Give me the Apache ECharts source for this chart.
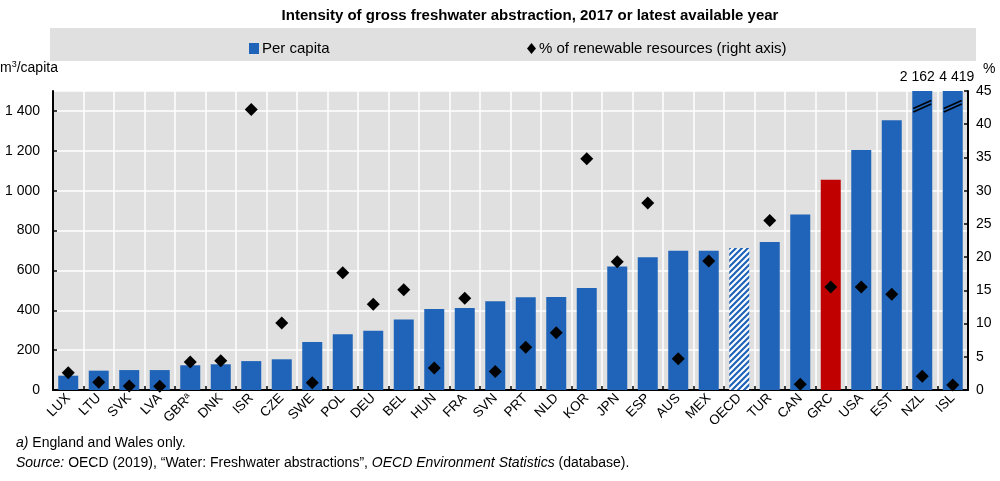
<!DOCTYPE html>
<html>
<head>
<meta charset="utf-8">
<script src="https://cdn.jsdelivr.net/npm/echarts@6/dist/echarts.min.js"></script>
<style>
html,body{margin:0;padding:0;background:#fff;}
#c{width:1000px;height:481px;}
</style>
</head>
<body>
<div id="c"></div>
<script>
const categories = ['LUX','LTU','SVK','LVA','GBR','DNK','ISR','CZE','SWE','POL','DEU','BEL','HUN','FRA','SVN','PRT','NLD','KOR','JPN','ESP','AUS','MEX','OECD','TUR','CAN','GRC','USA','EST','NZL','ISL'];
const perCapita = [72,97,100,100,124,129,145,154,241,280,297,354,406,411,445,465,466,512,619,666,699,699,712,743,880,1055,1204,1353,2162,4419];
const pctRenewable = [2.6,1.15,0.6,0.55,4.2,4.4,42.2,10.1,1.1,17.65,12.9,15.1,3.3,13.8,2.8,6.45,8.6,34.8,19.3,28.15,4.7,19.4,null,25.5,0.85,15.5,15.5,14.4,2.06,0.75];
const leftTicks = {min:0, max:1500, interval:200};
const rightTicks = {min:0, max:45, interval:5};
const footnoteLabels = ['GBR'];

const BLUE = '#1f64b8';
const RED = '#c00000';
const NARROW = "'Liberation Sans Narrow','Arial Narrow','Liberation Sans',Arial,sans-serif";
const SANS = "'Liberation Sans',Arial,sans-serif";

function fmt(v){ return String(v).replace(/\B(?=(\d{3})+(?!\d))/g,' '); }

// hatch pattern for OECD
const pc = document.createElement('canvas');
pc.width = 6; pc.height = 6;
const g = pc.getContext('2d');
g.fillStyle = '#ffffff'; g.fillRect(0,0,6,6);
g.strokeStyle = BLUE; g.lineWidth = 2.2;
g.beginPath();
for (let k=-2;k<=2;k++){ g.moveTo(k*6-1, 7); g.lineTo(k*6+7, -1); }
g.stroke();

const cap = leftTicks.max;
let clippedCount = 0;
const barData = perCapita.map((v,i)=>{
  const d = {value: Math.min(v,cap)};
  if (categories[i]==='OECD') d.itemStyle = {color:{image:pc, repeat:'repeat'}};
  if (categories[i]==='GRC') d.itemStyle = {color:RED};
  if (v>cap) {
    const off = clippedCount===0 ? -5 : 4;
    clippedCount++;
    d.label = {show:true, position:'top', distance:7, offset:[off,0], formatter: fmt(v), color:'#000', fontSize:14, fontFamily:NARROW};
  }
  return d;
});
const breakData = [];
perCapita.forEach((v,i)=>{ if (v>cap) breakData.push([i, cap*0.955]); });

const chart = echarts.init(document.getElementById('c'), null, {renderer:'canvas'});
chart.setOption({
  animation:false,
  backgroundColor:'#fff',
  title:{text:'Intensity of gross freshwater abstraction, 2017 or latest available year', left:525, textAlign:'center', top:3,
    textStyle:{fontFamily:NARROW, fontSize:15, fontWeight:'bold', color:'#000'}},
  graphic:[
    {type:'rect', left:50, top:28, shape:{width:926, height:33}, style:{fill:'#e0e0e0'}, z:-1},
    {type:'text', left:0, top:60, style:{rich:{n:{fontSize:14,fontFamily:SANS,fill:'#000'}, s:{fontSize:9,fontFamily:SANS,fill:'#000',verticalAlign:'top',padding:[0,0,8,0]}}, text:'{n|m}{s|3}{n|/capita}', font:'14px '+SANS, fill:'#000'}},
    {type:'text', left:983, top:62, style:{text:'%', font:'14px '+SANS, fill:'#000'}},
    {type:'text', left:16, top:436, style:{rich:{i:{fontStyle:'italic',fontSize:14,fontFamily:SANS,fill:'#000'}, n:{fontSize:14,fontFamily:SANS,fill:'#000'}}, text:'{i|a)}{n| England and Wales only.}'}},
    {type:'text', left:16, top:456, style:{rich:{i:{fontStyle:'italic',fontSize:14,fontFamily:SANS,fill:'#000'}, n:{fontSize:14,fontFamily:SANS,fill:'#000'}}, text:'{i|Source:}{n| OECD (2019), \u201cWater: Freshwater abstractions\u201d, }{i|OECD Environment Statistics}{n| (database).}'}}
  ],
  legend:[
    {data:[{name:'Per capita', icon:'rect'}], left:244, top:36, itemWidth:10, itemHeight:11, itemGap:0,
      textStyle:{fontFamily:NARROW, fontSize:15, color:'#000', padding:[0,0,0,-2]}},
    {data:[{name:'% of renewable resources (right axis)', icon:'diamond'}], left:522, top:36, itemWidth:9, itemHeight:11,
      textStyle:{fontFamily:NARROW, fontSize:15, color:'#000', padding:[0,0,0,-2]}}
  ],
  grid:{left:53, right:32, top:91, bottom:91, show:true, backgroundColor:'#e0e0e0', borderWidth:0},
  xAxis:{type:'category', data:categories, boundaryGap:true,
    axisLine:{lineStyle:{color:'#000', width:2}},
    axisTick:{show:true, inside:true, length:4, lineStyle:{color:'#000', width:1.5}},
    splitLine:{show:true, lineStyle:{color:'#fff', width:1.5}},
    axisLabel:{rotate:45, interval:0, margin:6, fontSize:13.5, fontFamily:SANS, color:'#000',
      formatter:(v)=> footnoteLabels.includes(v) ? v+'{s|a}' : v,
      rich:{s:{fontSize:9, fontFamily:SANS, color:'#000', verticalAlign:'top', padding:[0,0,6,0]}}}
  },
  yAxis:[
    {type:'value', min:leftTicks.min, max:leftTicks.max, interval:leftTicks.interval,
      axisLine:{show:true, lineStyle:{color:'#000', width:2}},
      axisTick:{show:true, inside:true, length:4, lineStyle:{color:'#000', width:1.5}},
      splitLine:{show:true, lineStyle:{color:'#fff', width:1.5}},
      axisLabel:{showMaxLabel:false, margin:13, fontSize:14, fontFamily:SANS, color:'#000', formatter:(v)=>fmt(v)}},
    {type:'value', position:'right', min:rightTicks.min, max:rightTicks.max, interval:rightTicks.interval,
      axisLine:{show:true, lineStyle:{color:'#000', width:2}},
      axisTick:{show:true, inside:true, length:4, lineStyle:{color:'#000', width:1.5}},
      splitLine:{show:false},
      axisLabel:{margin:8, fontSize:14, fontFamily:SANS, color:'#000'}}
  ],
  series:[
    {name:'Per capita', type:'bar', yAxisIndex:0, data:barData, barWidth:20, itemStyle:{color:BLUE}, z:2},
    {name:'% of renewable resources (right axis)', type:'scatter', yAxisIndex:1, data:pctRenewable, symbol:'diamond', symbolSize:[13,13], itemStyle:{color:'#000', opacity:1}, z:5},
    {name:'break', type:'custom', yAxisIndex:0, data:breakData, z:4, silent:true,
      renderItem:(params, api)=>{
        const p = api.coord([api.value(0), api.value(1)]);
        const hw = 9, rise = 4;
        return {type:'group', children:[
          {type:'line', shape:{x1:p[0]-hw, y1:p[1]+rise, x2:p[0]+hw, y2:p[1]-rise}, style:{stroke:'#000', lineWidth:1.5}},
          {type:'line', shape:{x1:p[0]-hw, y1:p[1]+rise+3.5, x2:p[0]+hw, y2:p[1]-rise+3.5}, style:{stroke:'#000', lineWidth:1.5}}
        ]};
      }}
  ]
});
</script>
</body>
</html>
